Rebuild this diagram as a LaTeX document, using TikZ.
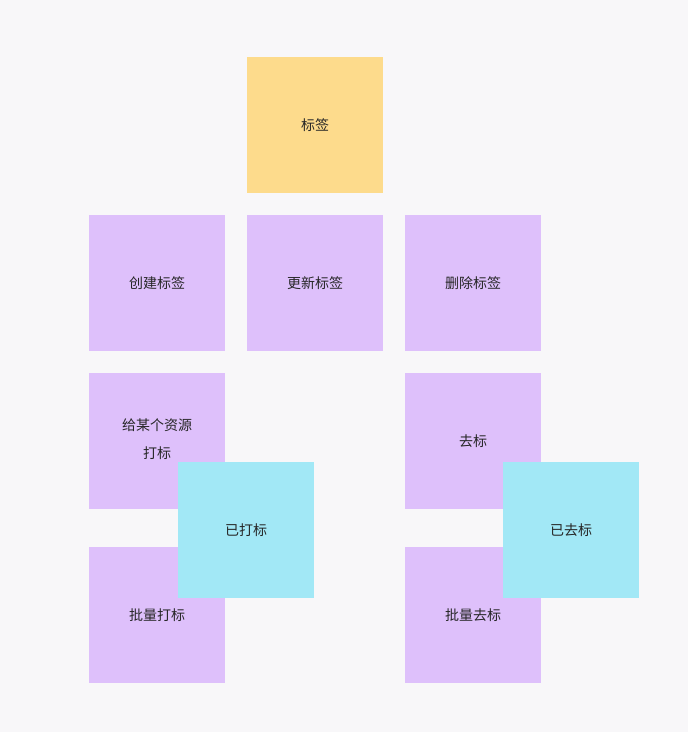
\documentclass[tikz,border=0pt]{standalone}
\usepackage{fontspec}
\setmainfont{Noto Sans CJK SC}
\definecolor{bg}{HTML}{F8F7F9}
\definecolor{yel}{HTML}{FDDB8C}
\definecolor{pur}{HTML}{DEC0FB}
\definecolor{cya}{HTML}{A2E8F6}
\tikzset{card/.style={minimum width=136pt,minimum height=136pt,inner sep=0pt,font=\fontsize{14}{18}\selectfont,align=center,text=black!85}}
\begin{document}
\begin{tikzpicture}[x=1pt,y=-1pt]
\fill[bg] (0,0) rectangle (688,732);
\useasboundingbox (0,0) rectangle (688,732);
\node[card,fill=yel] (tag) at (315,125) {标签};
\node[card,fill=pur] (create) at (157,283) {创建标签};
\node[card,fill=pur] (update) at (315,283) {更新标签};
\node[card,fill=pur] (delete) at (473,283) {删除标签};
\node[card,fill=pur] (mark) at (157,441) {};
\node[font=\fontsize{14}{28}\selectfont,align=center,text=black!85] (marktext) at (157,439) {给某个资源\\打标};
\node[card,fill=pur] (unmark) at (473,441) {去标};
\node[card,fill=pur] (bmark) at (157,615) {批量打标};
\node[card,fill=pur] (bunmark) at (473,615) {批量去标};
\node[card,fill=cya] (marked) at (246,530) {已打标};
\node[card,fill=cya] (unmarked) at (571,530) {已去标};
\end{tikzpicture}
\end{document}
